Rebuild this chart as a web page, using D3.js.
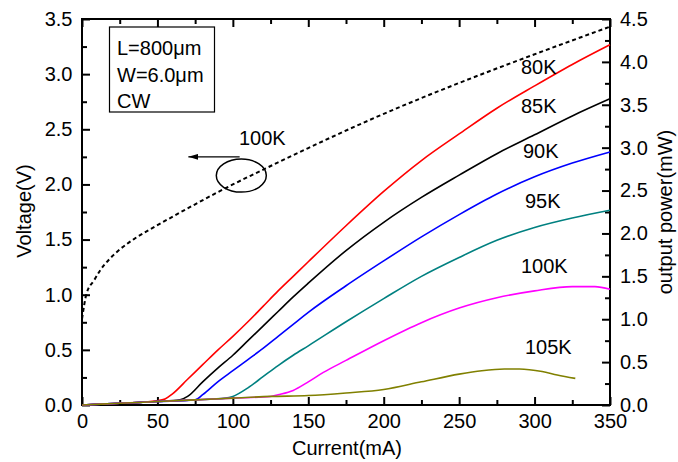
<!DOCTYPE html>
<html>
<head>
<meta charset="utf-8">
<script src="https://cdn.jsdelivr.net/npm/d3@7"></script>
<style>
  body { margin: 0; background: #fff; }
  text { font-family: "Liberation Sans", Arial, sans-serif; }
</style>
</head>
<body>
<script>
// Chart size and margins
const margin = { top: 19, right: 68, bottom: 57, left: 82 };
const width = 678 - margin.left - margin.right;
const height = 462 - margin.top - margin.bottom;

// Axis ticks
const xTicks = [0, 50, 100, 150, 200, 250, 300, 350];
const vTicks = [0, 0.5, 1.0, 1.5, 2.0, 2.5, 3.0, 3.5];
const pTicks = [0, 0.5, 1.0, 1.5, 2.0, 2.5, 3.0, 3.5, 4.0, 4.5];

// Voltage curve at 100K (left axis)
const vCurrent = [0, 3, 8, 12, 18, 25, 35, 50, 75, 100, 118, 130, 150, 185, 200, 250, 300, 350];
const vVoltage = [0.78, 1.01, 1.13, 1.22, 1.32, 1.41, 1.51, 1.63, 1.82, 2.00, 2.12, 2.20, 2.33, 2.55, 2.64, 2.92, 3.18, 3.43];

// Output power curves (right axis)
const p80Current = [0, 25, 50, 55, 60, 70, 80, 90, 100, 110, 120, 130, 140, 150, 175, 200, 225, 250, 275, 300, 325, 350];
const p80Power = [0, 0.02, 0.05, 0.07, 0.13, 0.30, 0.47, 0.64, 0.80, 0.97, 1.15, 1.33, 1.50, 1.67, 2.09, 2.49, 2.85, 3.16, 3.46, 3.72, 3.97, 4.20];

const p85Current = [0, 25, 50, 65, 70, 80, 90, 100, 110, 120, 130, 140, 150, 175, 200, 225, 250, 275, 300, 325, 350];
const p85Power = [0, 0.02, 0.04, 0.06, 0.10, 0.27, 0.43, 0.58, 0.75, 0.92, 1.09, 1.26, 1.42, 1.80, 2.13, 2.42, 2.68, 2.93, 3.15, 3.37, 3.57];

const p90Current = [0, 25, 50, 75, 80, 90, 100, 110, 120, 130, 140, 150, 175, 200, 225, 250, 275, 300, 325, 350];
const p90Power = [0, 0.02, 0.04, 0.06, 0.12, 0.27, 0.40, 0.53, 0.66, 0.80, 0.94, 1.08, 1.39, 1.68, 1.96, 2.22, 2.46, 2.66, 2.82, 2.95];

const p95Current = [0, 25, 50, 75, 95, 100, 110, 120, 130, 140, 150, 175, 200, 225, 250, 275, 300, 325, 350];
const p95Power = [0, 0.02, 0.04, 0.06, 0.08, 0.10, 0.20, 0.33, 0.46, 0.58, 0.69, 0.97, 1.24, 1.50, 1.72, 1.92, 2.07, 2.18, 2.27];

const p100Current = [0, 25, 50, 75, 100, 125, 130, 140, 150, 160, 175, 200, 225, 250, 275, 300, 325, 340, 350];
const p100Power = [0, 0.02, 0.04, 0.06, 0.08, 0.10, 0.12, 0.17, 0.27, 0.38, 0.52, 0.75, 0.96, 1.13, 1.25, 1.33, 1.38, 1.38, 1.35];

const p105Current = [0, 25, 50, 75, 100, 125, 150, 175, 200, 225, 250, 265, 280, 290, 305, 315, 327];
const p105Power = [0, 0.02, 0.04, 0.06, 0.08, 0.10, 0.11, 0.14, 0.18, 0.27, 0.36, 0.40, 0.42, 0.42, 0.39, 0.35, 0.31];

const powerSeries = [
  { name: '80K', color: '#ff0000', x: p80Current, y: p80Power, label: [521, 74] },
  { name: '85K', color: '#000000', x: p85Current, y: p85Power, label: [521, 113] },
  { name: '90K', color: '#0000ff', x: p90Current, y: p90Power, label: [523, 158] },
  { name: '95K', color: '#008080', x: p95Current, y: p95Power, label: [525, 208] },
  { name: '100K', color: '#ff00ff', x: p100Current, y: p100Power, label: [521, 273] },
  { name: '105K', color: '#808000', x: p105Current, y: p105Power, label: [525, 354] }
];

const svg = d3.select('body').append('svg')
  .attr('width', 678)
  .attr('height', 462);

const g = svg.append('g')
  .attr('transform', 'translate(' + margin.left + ',' + margin.top + ')');

// Scales
const x = d3.scaleLinear().domain([0, 350]).range([0, width]);
const yV = d3.scaleLinear().domain([0, 3.5]).range([height, 0]);
const yP = d3.scaleLinear().domain([0, 4.5]).range([height, 0]);

const fmt1 = d3.format('.1f');
const minorX = d3.range(25, 350, 50);
const minorV = d3.range(0.25, 3.5, 0.5);
const minorP = d3.range(0.25, 4.5, 0.5);

function styleAxis(sel) {
  sel.select('.domain').remove();
  sel.selectAll('line').attr('stroke', '#000').attr('stroke-width', 2);
  sel.selectAll('text').style('font-size', '20px').attr('fill', '#000');
}

// Bottom axis
g.append('g').attr('transform', 'translate(0,' + height + ')')
  .call(d3.axisBottom(x).tickValues(xTicks).tickSize(-8).tickPadding(9).tickFormat(d3.format('d')))
  .call(styleAxis);
g.append('g').attr('transform', 'translate(0,' + height + ')')
  .call(d3.axisBottom(x).tickValues(minorX).tickSize(-5).tickFormat(''))
  .call(styleAxis);
// Top axis (ticks only)
g.append('g')
  .call(d3.axisTop(x).tickValues(xTicks).tickSize(-8).tickFormat(''))
  .call(styleAxis);
g.append('g')
  .call(d3.axisTop(x).tickValues(minorX).tickSize(-5).tickFormat(''))
  .call(styleAxis);
// Left axis
g.append('g')
  .call(d3.axisLeft(yV).tickValues(vTicks).tickSize(-8).tickPadding(9.5).tickFormat(fmt1))
  .call(styleAxis);
g.append('g')
  .call(d3.axisLeft(yV).tickValues(minorV).tickSize(-5).tickFormat(''))
  .call(styleAxis);
// Right axis
g.append('g').attr('transform', 'translate(' + width + ',0)')
  .call(d3.axisRight(yP).tickValues(pTicks).tickSize(-8).tickPadding(10).tickFormat(fmt1))
  .call(styleAxis);
g.append('g').attr('transform', 'translate(' + width + ',0)')
  .call(d3.axisRight(yP).tickValues(minorP).tickSize(-5).tickFormat(''))
  .call(styleAxis);

// Frame
g.append('rect')
  .attr('width', width)
  .attr('height', height)
  .attr('fill', 'none')
  .attr('stroke', '#000')
  .attr('stroke-width', 2);

// Power curves
powerSeries.forEach(function (s) {
  const pts = s.x.map(function (c, i) { return [c, s.y[i]]; });
  const line = d3.line()
    .x(function (d) { return x(d[0]); })
    .y(function (d) { return yP(d[1]); })
    .curve(d3.curveMonotoneX);
  g.append('path')
    .datum(pts)
    .attr('d', line)
    .attr('fill', 'none')
    .attr('stroke', s.color)
    .attr('stroke-width', 1.6);
  svg.append('text')
    .attr('x', s.label[0])
    .attr('y', s.label[1])
    .style('font-size', '20px')
    .text(s.name);
});

// Voltage curve (dashed)
const vPts = vCurrent.map(function (c, i) { return [c, vVoltage[i]]; });
g.append('path')
  .datum(vPts)
  .attr('d', d3.line()
    .x(function (d) { return x(d[0]); })
    .y(function (d) { return yV(d[1]); })
    .curve(d3.curveMonotoneX))
  .attr('fill', 'none')
  .attr('stroke', '#000')
  .attr('stroke-width', 2)
  .attr('stroke-dasharray', '4,3');

// Ellipse and arrow pointing to the left axis
g.append('ellipse')
  .attr('cx', x(105.6))
  .attr('cy', yV(2.08))
  .attr('rx', 25)
  .attr('ry', 16.5)
  .attr('fill', 'none')
  .attr('stroke', '#000')
  .attr('stroke-width', 1.5);

svg.append('defs').append('marker')
  .attr('id', 'arrow')
  .attr('viewBox', '0 0 10 6')
  .attr('refX', 10).attr('refY', 3)
  .attr('markerWidth', 10).attr('markerHeight', 6)
  .attr('markerUnits', 'userSpaceOnUse')
  .attr('orient', 'auto')
  .append('path').attr('d', 'M0,0 L10,3 L0,6 Z').attr('fill', '#000');

g.append('line')
  .attr('x1', x(104.5)).attr('y1', yV(2.25))
  .attr('x2', x(70.5)).attr('y2', yV(2.25))
  .attr('stroke', '#000')
  .attr('stroke-width', 1.3)
  .attr('marker-end', 'url(#arrow)');

svg.append('text')
  .attr('x', 239).attr('y', 145)
  .style('font-size', '20px')
  .text('100K');

// Parameter box
svg.append('rect')
  .attr('x', 109.5).attr('y', 27)
  .attr('width', 105).attr('height', 85)
  .attr('fill', '#fff')
  .attr('stroke', '#000')
  .attr('stroke-width', 1.2);
const boxText = svg.append('text').attr('x', 117).style('font-size', '20px');
boxText.append('tspan').attr('x', 117).attr('y', 55).text('L=800\u03bcm');
boxText.append('tspan').attr('x', 117).attr('y', 82).text('W=6.0\u03bcm');
boxText.append('tspan').attr('x', 117).attr('y', 108).text('CW');

// Axis titles
svg.append('text')
  .attr('x', 347).attr('y', 455)
  .attr('text-anchor', 'middle')
  .style('font-size', '20px')
  .text('Current(mA)');

svg.append('text')
  .attr('transform', 'translate(31,211) rotate(-90)')
  .attr('text-anchor', 'middle')
  .style('font-size', '20px')
  .text('Voltage(V)');

svg.append('text')
  .attr('transform', 'translate(672,212) rotate(-90)')
  .attr('text-anchor', 'middle')
  .style('font-size', '20px')
  .text('output power(mW)');
</script>
</body>
</html>
